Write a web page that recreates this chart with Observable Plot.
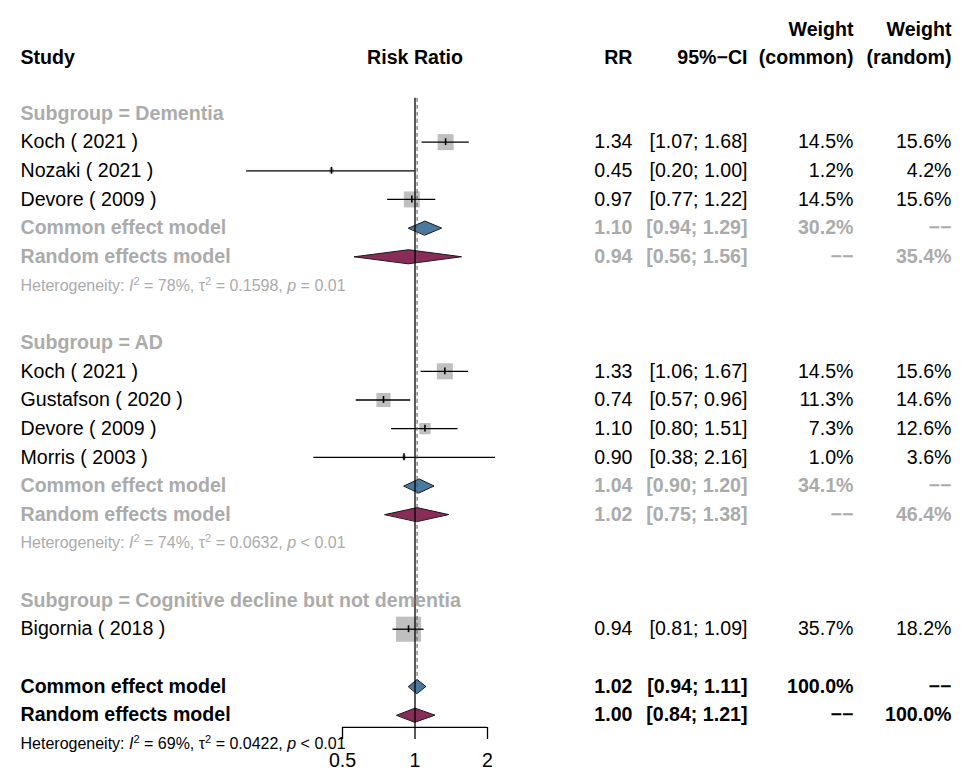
<!DOCTYPE html>
<html>
<head>
<meta charset="utf-8">
<script src="https://cdn.jsdelivr.net/npm/d3@7"></script>
<script src="https://cdn.jsdelivr.net/npm/@observablehq/plot@0.6"></script>
<style>
  body { margin: 0; background: #fff; }
  #chart { width: 964px; height: 773px; }
</style>
</head>
<body>
<div id="chart"></div>
<script>
// ---------- data ----------
const subgroupNames = ["Dementia", "AD", "Cognitive decline but not dementia"];

const studyLabels  = ["Koch ( 2021 )", "Nozaki ( 2021 )", "Devore ( 2009 )",
                      "Koch ( 2021 )", "Gustafson ( 2020 )", "Devore ( 2009 )", "Morris ( 2003 )",
                      "Bigornia ( 2018 )"];
const studyGroup   = [0, 0, 0, 1, 1, 1, 1, 2];
const studyRR      = [1.34, 0.45, 0.97, 1.33, 0.74, 1.10, 0.90, 0.94];
const studyLower   = [1.07, 0.20, 0.77, 1.06, 0.57, 0.80, 0.38, 0.81];
const studyUpper   = [1.68, 1.00, 1.22, 1.67, 0.96, 1.51, 2.16, 1.09];
const weightCommon = [14.5, 1.2, 14.5, 14.5, 11.3, 7.3, 1.0, 35.7];
const weightRandom = [15.6, 4.2, 15.6, 15.6, 14.6, 12.6, 3.6, 18.2];

// subgroup summaries (only subgroups with more than one study)
const subCommonRR = [1.10, 1.04], subCommonLo = [0.94, 0.90], subCommonHi = [1.29, 1.20], subCommonW = [30.2, 34.1];
const subRandomRR = [0.94, 1.02], subRandomLo = [0.56, 0.75], subRandomHi = [1.56, 1.38], subRandomW = [35.4, 46.4];
const subI2   = ["78%", "74%"];
const subTau2 = ["0.1598", "0.0632"];
const subP    = ["= 0.01", "< 0.01"];

// overall
const allCommon = [1.02, 0.94, 1.11, 100.0];   // RR, lower, upper, weight
const allRandom = [1.00, 0.84, 1.21, 100.0];
const allI2 = "69%", allTau2 = "0.0422", allP = "< 0.01";

const tickValues = [0.5, 1, 2];
const tickLabels = ["0.5", "1", "2"];
const MISSING = "\u2212\u2212";

// ---------- layout ----------
const GRAY = "#ababab";
const BLUE = "#4a7aa0";
const MAROON = "#8a2c5a";
const SQUARE = "#bfbfbf";
const ROW0 = 113, ROWH = 28.65, NROWS = 22;
const AXIS_ROW = 21.43;
const axisPx = ROW0 + AXIS_ROW * ROWH;
const DH = 0.245; // diamond half height in rows
const FS = 19.6, HET_FS = 16;

const f2 = v => v.toFixed(2);
const ci = (l, h) => `[${f2(l)}; ${f2(h)}]`;
const pct = v => v.toFixed(1) + "%";
const hetStr = (i2, t2, p) => `Heterogeneity: I2 = ${i2}, τ2 = ${t2}, p ${p}`;

const rows = [];
const diamonds = [];
let r = 0;
subgroupNames.forEach((g, gi) => {
  rows.push({row: r++, style: "subgroup", label: "Subgroup = " + g});
  studyLabels.forEach((s, i) => {
    if (studyGroup[i] !== gi) return;
    rows.push({row: r++, style: "study", label: s, est: studyRR[i], lo: studyLower[i], hi: studyUpper[i],
      wc: weightCommon[i], rrText: f2(studyRR[i]), ciText: ci(studyLower[i], studyUpper[i]),
      wcText: pct(weightCommon[i]), wrText: pct(weightRandom[i])});
  });
  if (subCommonRR[gi] != null) {
    rows.push({row: r, style: "subSummary", label: "Common effect model", rrText: f2(subCommonRR[gi]),
      ciText: ci(subCommonLo[gi], subCommonHi[gi]), wcText: pct(subCommonW[gi]), wrText: MISSING});
    diamonds.push({row: r++, kind: "common", est: subCommonRR[gi], lo: subCommonLo[gi], hi: subCommonHi[gi]});
    rows.push({row: r, style: "subSummary", label: "Random effects model", rrText: f2(subRandomRR[gi]),
      ciText: ci(subRandomLo[gi], subRandomHi[gi]), wcText: MISSING, wrText: pct(subRandomW[gi])});
    diamonds.push({row: r++, kind: "random", est: subRandomRR[gi], lo: subRandomLo[gi], hi: subRandomHi[gi]});
    rows.push({row: r++, style: "subHet", label: hetStr(subI2[gi], subTau2[gi], subP[gi])});
  }
  r++; // blank line
});
rows.push({row: r, style: "allSummary", label: "Common effect model", rrText: f2(allCommon[0]),
  ciText: ci(allCommon[1], allCommon[2]), wcText: pct(allCommon[3]), wrText: MISSING});
diamonds.push({row: r++, kind: "common", est: allCommon[0], lo: allCommon[1], hi: allCommon[2]});
const overallCommonRow = r - 1;
rows.push({row: r, style: "allSummary", label: "Random effects model", rrText: f2(allRandom[0]),
  ciText: ci(allRandom[1], allRandom[2]), wcText: MISSING, wrText: pct(allRandom[3])});
diamonds.push({row: r++, kind: "random", est: allRandom[0], lo: allRandom[1], hi: allRandom[2]});
rows.push({row: r++, style: "allHet", label: hetStr(allI2, allTau2, allP)});

const header1 = [{row: -2.94, col: "wcText", text: "Weight"}, {row: -2.94, col: "wrText", text: "Weight"}];
const header2 = [{row: -1.95, col: "label", text: "Study"}, {row: -1.95, col: "rrText", text: "RR"},
                 {row: -1.95, col: "ciText", text: "95%−CI"}, {row: -1.95, col: "wcText", text: "(common)"},
                 {row: -1.95, col: "wrText", text: "(random)"}];

const columns = [
  {key: "label",  anchor: "start", dx: 20},
  {key: "rrText", anchor: "end",   dx: 632},
  {key: "ciText", anchor: "end",   dx: 747},
  {key: "wcText", anchor: "end",   dx: 853},
  {key: "wrText", anchor: "end",   dx: 951}
];
const styles = {
  subgroup:   {fill: GRAY,   fontWeight: "bold",   fontSize: FS},
  study:      {fill: "#000", fontWeight: "normal", fontSize: FS},
  subSummary: {fill: GRAY,   fontWeight: "bold",   fontSize: FS},
  subHet:     {fill: GRAY,   fontWeight: "normal", fontSize: HET_FS, className: "het"},
  allSummary: {fill: "#000", fontWeight: "bold",   fontSize: FS},
  allHet:     {fill: "#000", fontWeight: "normal", fontSize: HET_FS, className: "het"}
};

const textMarks = [];
for (const [sname, st] of Object.entries(styles)) {
  for (const c of columns) {
    const data = rows.filter(d => d.style === sname && d[c.key] != null);
    if (!data.length) continue;
    textMarks.push(Plot.text(data, {y: "row", text: c.key, frameAnchor: "left", dx: c.dx,
      textAnchor: c.anchor, ...st}));
  }
}
for (const c of columns) {
  const hs = [...header1, ...header2].filter(h => h.col === c.key);
  if (hs.length) textMarks.push(Plot.text(hs, {y: "row", text: "text", frameAnchor: "left", dx: c.dx,
    textAnchor: c.anchor, fontWeight: "bold", fontSize: FS, fill: "#000"}));
}
textMarks.push(Plot.text([{row: -1.95, text: "Risk Ratio"}], {x: () => 1, y: "row", text: "text",
  textAnchor: "middle", fontWeight: "bold", fontSize: FS, fill: "#000"}));

const studyRows = rows.filter(d => d.style === "study");
const diamondPts = diamonds.flatMap((d, i) => [
  {id: i, kind: d.kind, x: d.lo, y: d.row},
  {id: i, kind: d.kind, x: d.est, y: d.row - DH},
  {id: i, kind: d.kind, x: d.hi, y: d.row},
  {id: i, kind: d.kind, x: d.est, y: d.row + DH}
]);

const plot = Plot.plot({
  width: 964, height: 773,
  marginLeft: 0, marginRight: 0, marginTop: 0, marginBottom: 773 - axisPx,
  x: {type: "log", domain: [0.5, 2], range: [342, 487]},
  y: {domain: [0, NROWS], range: [ROW0, ROW0 + NROWS * ROWH], axis: null},
  r: {type: "sqrt", domain: [0, 100], range: [0, 23.7]},
  style: {fontFamily: "'Liberation Sans', Arial, Helvetica, sans-serif", fontSize: FS + "px", background: "#fff", color: "#000"},
  marks: [
    // study squares
    Plot.dot(studyRows, {x: "est", y: "row", r: "wc", symbol: "square", fill: SQUARE, stroke: "none"}),
    // confidence intervals
    Plot.ruleY(studyRows, {y: "row", x1: "lo", x2: "hi", stroke: "#000", strokeWidth: 1.3}),
    Plot.ruleX(studyRows, {x: "est", y1: d => d.row - 0.12, y2: d => d.row + 0.12, stroke: "#000", strokeWidth: 1.6}),
    // diamonds
    Plot.line(diamondPts.filter(d => d.kind === "common"), {x: "x", y: "y", z: "id", curve: "linear-closed",
      fill: BLUE, stroke: "#1a1a1a", strokeWidth: 1}),
    Plot.line(diamondPts.filter(d => d.kind === "random"), {x: "x", y: "y", z: "id", curve: "linear-closed",
      fill: MAROON, stroke: "#1a1a1a", strokeWidth: 1}),
    // reference lines
    Plot.ruleX([1], {y1: -0.53, y2: AXIS_ROW, stroke: "#000", strokeWidth: 1.3}),
    Plot.ruleX([allCommon[0]], {y1: -0.53, y2: overallCommonRow - DH, stroke: "#555", strokeWidth: 1,
      strokeDasharray: "4,3"}),
    // axis
    Plot.ruleY([AXIS_ROW], {x1: tickValues[0], x2: tickValues[tickValues.length - 1], stroke: "#000", strokeWidth: 1.3}),
    Plot.axisX({anchor: "bottom", ticks: tickValues, tickFormat: d => tickLabels[tickValues.indexOf(d)],
      tickSize: 12, tickPadding: 14, fontSize: FS, strokeWidth: 1.3, fill: "#000", label: null}),
    ...textMarks
  ]
});

// rich-text heterogeneity lines (italic I and p, superscript 2)
d3.select(plot).selectAll("g.het text").each(function () {
  const m = this.textContent.match(/^Heterogeneity: I2 = (.+), τ2 = (.+), p (.+)$/);
  if (!m) return;
  const t = d3.select(this);
  t.text(null);
  t.append("tspan").text("Heterogeneity: ");
  t.append("tspan").attr("font-style", "italic").text("I");
  t.append("tspan").attr("font-size", "11px").attr("dy", "-6").text("2");
  t.append("tspan").attr("dy", "6").text(` = ${m[1]}, τ`);
  t.append("tspan").attr("font-size", "11px").attr("dy", "-6").text("2");
  t.append("tspan").attr("dy", "6").text(` = ${m[2]}, `);
  t.append("tspan").attr("font-style", "italic").text("p");
  t.append("tspan").text(` ${m[3]}`);
});

document.getElementById("chart").appendChild(plot);
</script>
</body>
</html>
